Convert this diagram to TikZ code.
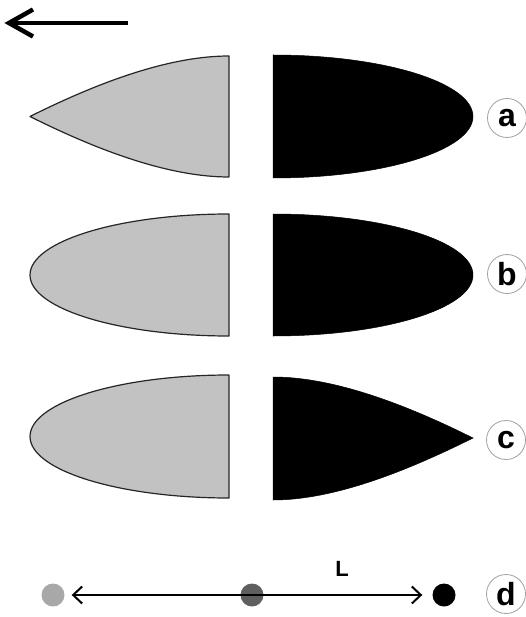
\documentclass[tikz,border=0pt]{standalone}
\usepackage{fontspec}
\setmainfont{Liberation Sans}
\usetikzlibrary{arrows.meta}
\definecolor{lightfill}{HTML}{C2C2C2}
\definecolor{dotlight}{HTML}{A8A8A8}
\definecolor{dotdark}{HTML}{5F5F5F}
\definecolor{ringgray}{HTML}{A0A0A0}
\begin{document}
\begin{tikzpicture}[x=1pt,y=-1pt,
  greyshape/.style={fill=lightfill,draw=black!85,line width=1.2pt,line join=round},
  blackshape/.style={fill=black,draw=black,line width=0.5pt},
  lbl/.style={circle,draw=ringgray,line width=0.8pt,fill=white,minimum size=39pt,inner sep=0pt,
    font=\fontsize{32}{32}\selectfont\bfseries},
  dot/.style={circle,minimum size=23pt,inner sep=0pt},
  bigarrow/.style={line width=4.5pt},
  lenarrow/.style={line width=2pt,{Straight Barb[length=9pt,width=17pt]}-{Straight Barb[length=9pt,width=17pt]}}
]
\useasboundingbox (0,0) rectangle (526,617);
% top direction arrow
\coordinate (ta) at (128,23);
\coordinate (tb) at (9,23);
\coordinate (tu) at (33,9.5);
\coordinate (tl) at (33,36.5);
\draw[bigarrow] (ta) -- (tb);
\draw[bigarrow,line join=miter] (tu) -- (tb) -- (tl);
% row a
\draw[greyshape] (229,56) -- (229,177) .. controls (170,177) and (100,151.5) .. (30,116.5)
  .. controls (100,81.5) and (170,56) .. (229,56) -- cycle;
\draw[blackshape] (273,55) .. controls (383.4,55) and (473,82.6) .. (473,116.5)
  .. controls (473,150.4) and (383.4,178) .. (273,178) -- cycle;
% row b
\draw[greyshape] (229,214) -- (229,336) .. controls (119.2,336) and (30,308.7) .. (30,275)
  .. controls (30,241.3) and (119.2,214) .. (229,214) -- cycle;
\draw[blackshape] (273,214) .. controls (383.4,214) and (473,241.3) .. (473,275)
  .. controls (473,308.7) and (383.4,336) .. (273,336) -- cycle;
% row c
\draw[greyshape] (229,375) -- (229,498) .. controls (119.2,498) and (30,470.5) .. (30,436.5)
  .. controls (30,402.5) and (119.2,375) .. (229,375) -- cycle;
\draw[blackshape] (273,377) .. controls (332,377) and (403,403) .. (473,438)
  .. controls (403,473) and (332,500) .. (273,500) -- cycle;
% row d
\node[dot,fill=dotlight] (p1) at (53,595) {};
\node[dot,fill=dotdark] (p2) at (252,595) {};
\node[dot,fill=black] (p3) at (444,595) {};
\draw[lenarrow,shorten <=7pt,shorten >=10pt] (p1) -- (p3);
\node[font=\fontsize{22}{22}\selectfont\bfseries] (Ltxt) at (342,569) {L};
% labels
\node[lbl] (la) at (507,118) {a};
\node[lbl] (lb) at (507,274) {b};
\node[lbl] (lc) at (506,440) {c};
\node[lbl] (ld) at (506,594) {d};
\end{tikzpicture}
\end{document}
